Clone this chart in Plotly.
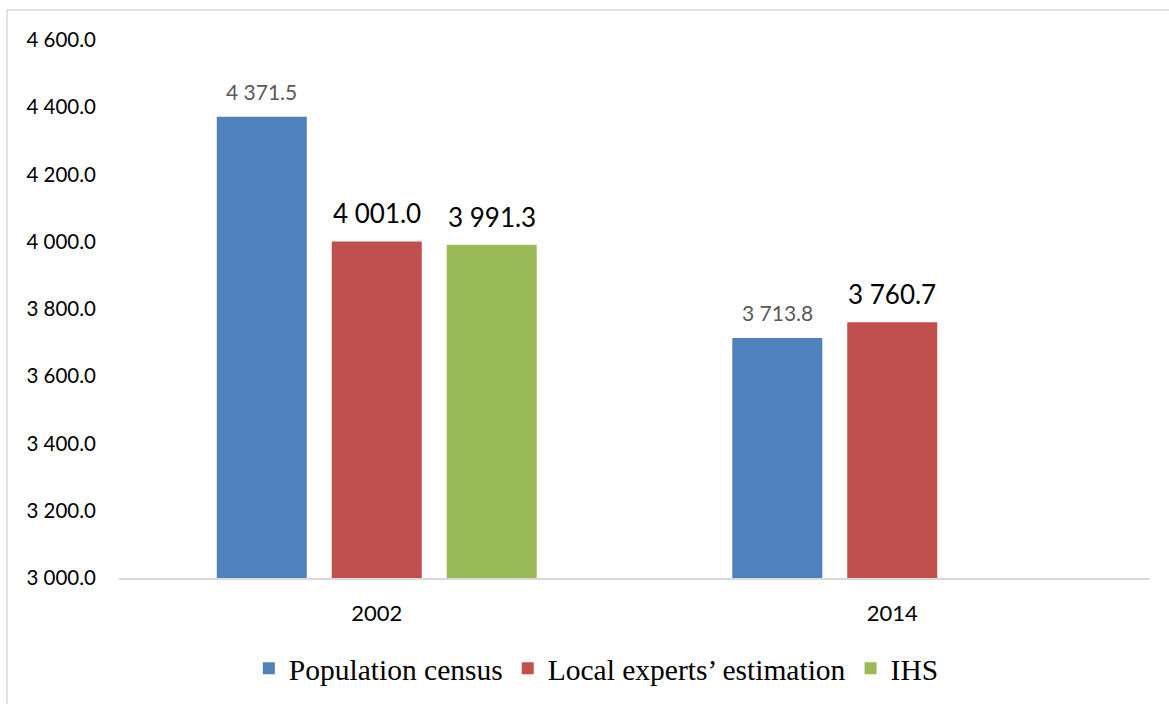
import plotly.graph_objects as go

years = ["2002", "2014"]
series_names = ["Population census", "Local experts\u2019 estimation", "IHS"]
census = [4371.5, 3713.8]
local_est = [4001.0, 3760.7]
ihs = [3991.3, None]
y_ticks = [3000, 3200, 3400, 3600, 3800, 4000, 4200, 4400, 4600]

colors = ["#4F81BD", "#C0504D", "#9BBB59"]
label_fonts = [
    dict(family="Lato, Carlito, sans-serif", size=21, color="#595959"),
    dict(family="Lato, Carlito, sans-serif", size=26, color="#000000"),
    dict(family="Lato, Carlito, sans-serif", size=26, color="#000000"),
]
label_shift = [11, 10, 10]

fig = go.Figure()
all_series = [census, local_est, ihs]
for name, vals, col in zip(series_names, all_series, colors):
    fig.add_trace(go.Bar(
        x=years, y=vals, name=name,
        marker=dict(color=col, line=dict(width=0)),
        hoverinfo="skip",
    ))

n = len(all_series)
for si, vals in enumerate(all_series):
    for ci, v in enumerate(vals):
        if v is None:
            continue
        fig.add_annotation(
            x=ci, y=v, xref="x", yref="y",
            text=f"{v:,.1f}".replace(",", " "),
            showarrow=False, yanchor="bottom",
            xshift=(si - (n - 1) / 2) * 115,
            yshift=label_shift[si],
            font=label_fonts[si],
        )

fig.update_layout(
    width=1169, height=704,
    margin=dict(l=119, r=19, t=40, b=126, autoexpand=False),
    paper_bgcolor="white", plot_bgcolor="white",
    barmode="group", bargap=0.331, bargroupgap=0.217,
    separators=". ",
    showlegend=True,
    legend=dict(
        orientation="h", x=0.463, xanchor="center", y=-0.12, yanchor="top",
        font=dict(family="Liberation Serif, Times New Roman, serif", size=29.5, color="#000"),
        itemwidth=30, tracegroupgap=0,
    ),
    xaxis=dict(
        type="category", range=[-0.5, len(years) - 0.5],
        showgrid=False, showline=True, linecolor="#D9D9D9", linewidth=2,
        ticks="", tickfont=dict(family="Lato, Carlito, sans-serif", size=22, color="#000"),
        ticklabelstandoff=15,
    ),
    yaxis=dict(
        range=[3000, 4600], showgrid=False, zeroline=False, showline=False,
        tickvals=y_ticks, tickformat=",.1f",
        tickfont=dict(family="Lato, Carlito, sans-serif", size=20.5, color="#000"),
        ticklabelstandoff=22,
    ),
    shapes=[dict(
        type="rect", xref="paper", yref="paper",
        x0=-0.1086, x1=1.03, y0=-0.26, y1=1.0558,
        line=dict(color="#D9D9D9", width=1.5), fillcolor="rgba(0,0,0,0)", layer="below",
    )],
)

fig.write_html("out.html")
